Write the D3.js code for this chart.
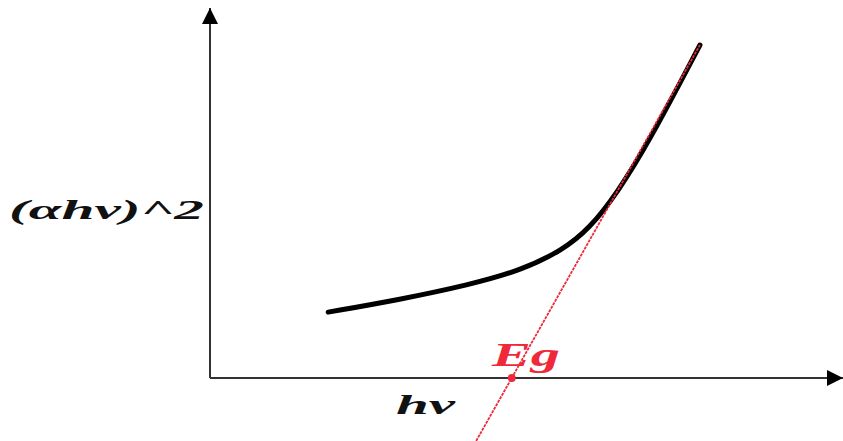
<!DOCTYPE html>
<html lang="en">
<head>
  <meta charset="utf-8">
  <title>Tauc plot sketch</title>
  <script src="https://d3js.org/d3.v7.min.js"></script>
  <style>
    body {
      margin: 0;
      background: #fff;
    }
    .label {
      font-family: "Liberation Serif", "DejaVu Serif", serif;
      font-weight: bold;
      font-style: italic;
    }
  </style>
</head>
<body>
<script>
  // ----------------------------------------------------
  // Data (photon energy in eV, (alpha*hv)^2 in arbitrary units)
  // ----------------------------------------------------
  const hvValues      = [1.56, 1.90, 2.23, 2.47, 2.67, 2.80, 2.93, 3.085, 3.322];
  const absorbValues  = [1.78, 2.12, 2.52, 2.90, 3.45, 4.05, 5.00, 6.43, 9.00];
  const bandGap = 2.43;          // Eg, where the tangent meets the hv axis
  const tangentSlope = 10.09;    // slope of the linear part
  const tangentRange = [-1.7, 9.0]; // (alpha*hv)^2 span of the red line

  const xDomain = [1.0, 4.0];
  const yDomain = [0, 10];

  // ----------------------------------------------------
  // Layout
  // ----------------------------------------------------
  const width = 843;
  const height = 441;

  const svg = d3.select("body")
    .append("svg")
    .attr("width", width)
    .attr("height", height);

  const x = d3.scaleLinear().domain(xDomain).range([210, 843]);
  const y = d3.scaleLinear().domain(yDomain).range([378, 8]);

  // arrow heads
  const defs = svg.append("defs");
  defs.append("marker")
    .attr("id", "arrow")
    .attr("viewBox", "0 0 10 10")
    .attr("refX", 10)
    .attr("refY", 5)
    .attr("markerUnits", "userSpaceOnUse")
    .attr("markerWidth", 18)
    .attr("markerHeight", 16)
    .attr("orient", "auto")
    .append("path")
    .attr("d", "M0,0 L10,5 L0,10 Z")
    .attr("fill", "#000");

  // ----------------------------------------------------
  // Axes (plain arrows, no ticks)
  // ----------------------------------------------------
  svg.append("line")
    .attr("x1", x(xDomain[0])).attr("y1", y(0))
    .attr("x2", x(xDomain[1])).attr("y2", y(0))
    .attr("stroke", "#333")
    .attr("stroke-width", 2)
    .attr("marker-end", "url(#arrow)");

  svg.append("line")
    .attr("x1", x(xDomain[0])).attr("y1", y(0))
    .attr("x2", x(xDomain[0])).attr("y2", y(yDomain[1]))
    .attr("stroke", "#333")
    .attr("stroke-width", 2)
    .attr("marker-end", "url(#arrow)");

  // ----------------------------------------------------
  // Absorption curve
  // ----------------------------------------------------
  const points = hvValues.map((hv, i) => [hv, absorbValues[i]]);

  const line = d3.line()
    .x(d => x(d[0]))
    .y(d => y(d[1]))
    .curve(d3.curveBasis);

  svg.append("path")
    .datum(points)
    .attr("d", line)
    .attr("fill", "none")
    .attr("stroke", "#000")
    .attr("stroke-width", 5)
    .attr("stroke-linecap", "round");

  // ----------------------------------------------------
  // Tangent (red) and Eg point
  // ----------------------------------------------------
  const tangent = tangentRange.map(v => [bandGap + v / tangentSlope, v]);

  svg.append("path")
    .datum(tangent)
    .attr("d", d3.line().x(d => x(d[0])).y(d => y(d[1])))
    .attr("fill", "none")
    .attr("stroke", "#ee2a3a")
    .attr("stroke-width", 1.8)
    .attr("stroke-dasharray", "3,1");

  svg.append("circle")
    .attr("cx", x(bandGap))
    .attr("cy", y(0))
    .attr("r", 4)
    .attr("fill", "#ee2a3a");

  // ----------------------------------------------------
  // Labels (stretched like the source image)
  // ----------------------------------------------------
  svg.append("text")
    .attr("class", "label")
    .attr("x", 9)
    .attr("y", 219)
    .attr("font-size", "27px")
    .attr("fill", "#111")
    .attr("textLength", 195)
    .attr("lengthAdjust", "spacingAndGlyphs")
    .text("(αhv)^2");

  svg.append("text")
    .attr("class", "label")
    .attr("x", 396)
    .attr("y", 414)
    .attr("font-size", "28px")
    .attr("fill", "#111")
    .attr("textLength", 59)
    .attr("lengthAdjust", "spacingAndGlyphs")
    .text("hv");

  svg.append("text")
    .attr("class", "label")
    .attr("x", 492)
    .attr("y", 366)
    .attr("font-size", "33px")
    .attr("fill", "#ee2a3a")
    .attr("textLength", 68)
    .attr("lengthAdjust", "spacingAndGlyphs")
    .text("Eg");
</script>
</body>
</html>
